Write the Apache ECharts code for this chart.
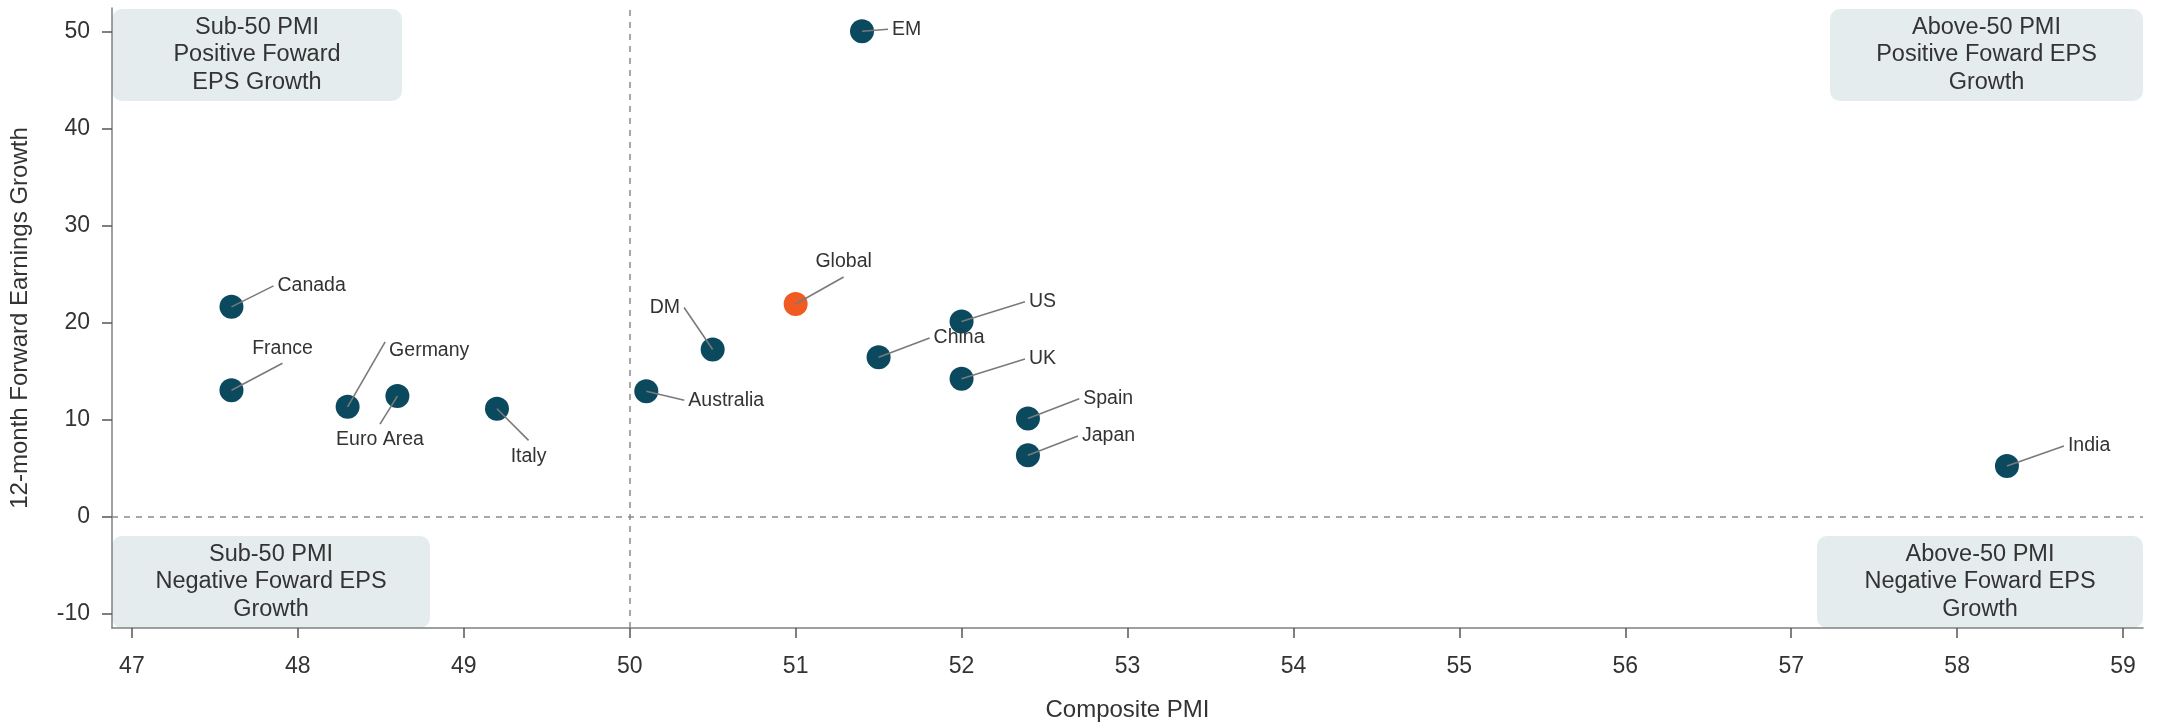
<!DOCTYPE html>
<html>
<head>
<meta charset="utf-8">
<title>PMI vs Forward EPS Growth</title>
<script src="https://cdn.jsdelivr.net/npm/echarts@6/dist/echarts.min.js"></script>
<style>
  html, body { margin: 0; padding: 0; background: #fff; }
  #chart { width: 2164px; height: 724px; }
</style>
</head>
<body>
<div id="chart"></div>
<script>
// data
const names = ['Canada', 'France', 'Germany', 'Euro Area', 'Italy', 'Australia', 'DM', 'Global', 'EM', 'China', 'US', 'UK', 'Spain', 'Japan', 'India']
const pmi = [47.6, 47.6, 48.3, 48.6, 49.2, 50.1, 50.5, 51.0, 51.4, 51.5, 52.0, 52.0, 52.4, 52.4, 58.3]
const epsGrowth = [21.6, 13.0, 11.3, 12.4, 11.1, 12.9, 17.2, 21.9, 50.0, 16.4, 20.1, 14.2, 10.1, 6.3, 5.2]
const xTicks = [47, 48, 49, 50, 51, 52, 53, 54, 55, 56, 57, 58, 59]
const yTicks = [-10, 0, 10, 20, 30, 40, 50]

// leader line end (px from point) and where the text sits relative to it
const labelPlace = {
  'Canada': { dx: 42, dy: -21, pos: 'right' },
  'France': { dx: 51, dy: -27, pos: 'top' },
  'Germany': { dx: 37.5, dy: -65, pos: 'right', ty: 9 },
  'Euro Area': { dx: -17.4, dy: 28, pos: 'bottom' },
  'Italy': { dx: 31.6, dy: 31.6, pos: 'bottom' },
  'Australia': { dx: 38, dy: 9, pos: 'right' },
  'DM': { dx: -28.6, dy: -42, pos: 'left' },
  'Global': { dx: 48, dy: -27, pos: 'top' },
  'EM': { dx: 26, dy: -2, pos: 'right' },
  'China': { dx: 51, dy: -19.4, pos: 'right' },
  'US': { dx: 63.4, dy: -19.7, pos: 'right' },
  'UK': { dx: 63.4, dy: -19.7, pos: 'right' },
  'Spain': { dx: 51.3, dy: -19.7, pos: 'right' },
  'Japan': { dx: 50, dy: -19.3, pos: 'right' },
  'India': { dx: 57, dy: -20, pos: 'right' },
}

const FONT = "'Liberation Sans', Arial, sans-serif"
const TEAL = '#0b4a5e'
const ORANGE = '#f15a22'
const TEXT = '#333333'
const BOX = '#e5ecee'

const points = names.map((n, i) => ({
  name: n,
  value: [pmi[i], epsGrowth[i]],
  itemStyle: { color: n === 'Global' ? ORANGE : TEAL, opacity: 1 },
}))

const chart = echarts.init(document.getElementById('chart'))

const quadBox = (pos, w, text) => ({
  type: 'group',
  ...pos,
  z: 1,
  children: [
    { type: 'rect', shape: { x: 0, y: 0, width: w, height: 92, r: 10 }, style: { fill: BOX } },
    {
      type: 'text',
      x: w / 2,
      y: 46,
      style: {
        text: text,
        fill: TEXT,
        font: `23.5px ${FONT}`,
        lineHeight: 27.3,
        align: 'center',
        verticalAlign: 'middle',
      },
    },
  ],
})

const option = {
  animation: false,
  backgroundColor: '#fff',
  grid: { left: 112, right: 21, top: 8, bottom: 96, containLabel: false, outerBoundsMode: 'none' },
  xAxis: {
    type: 'value',
    min: 46.88,
    max: 59.12,
    name: 'Composite PMI',
    nameLocation: 'middle',
    nameGap: 70,
    nameTextStyle: { color: TEXT, fontSize: 24, fontFamily: FONT },
    axisLine: { show: true, onZero: false, lineStyle: { color: '#808080', width: 1.5 } },
    axisTick: { show: true, length: 10, customValues: xTicks, lineStyle: { color: '#555', width: 1.5 } },
    axisLabel: { customValues: xTicks, color: TEXT, fontSize: 23, fontFamily: FONT, margin: 27 },
    splitLine: { show: false },
  },
  yAxis: {
    type: 'value',
    min: -11.5,
    max: 52.4,
    name: '12-month Forward Earnings Growth',
    nameLocation: 'middle',
    nameGap: 80,
    nameTextStyle: { color: TEXT, fontSize: 24, fontFamily: FONT },
    axisLine: { show: true, onZero: false, lineStyle: { color: '#808080', width: 1.5 } },
    axisTick: { show: true, length: 10, customValues: yTicks, lineStyle: { color: '#555', width: 1.5 } },
    axisLabel: { customValues: yTicks, color: TEXT, fontSize: 23, fontFamily: FONT, margin: 22 },
    splitLine: { show: false },
  },
  graphic: [
    quadBox({ left: 112, top: 9 }, 290, 'Sub-50 PMI\nPositive Foward\nEPS Growth'),
    quadBox({ left: 112, top: 536 }, 318, 'Sub-50 PMI\nNegative Foward EPS\nGrowth'),
    quadBox({ right: 21, top: 9 }, 313, 'Above-50 PMI\nPositive Foward EPS\nGrowth'),
    quadBox({ right: 21, top: 536 }, 326, 'Above-50 PMI\nNegative Foward EPS\nGrowth'),
  ],
  series: [
    {
      type: 'scatter',
      data: points,
      symbolSize: 24,
      z: 3,
      markLine: {
        silent: true,
        symbol: 'none',
        label: { show: false },
        lineStyle: { color: '#8a8a8a', width: 1.5, type: [6, 6] },
        data: [{ xAxis: 50 }, { yAxis: 0 }],
      },
    },
    {
      // leader lines + labels
      type: 'custom',
      z: 4,
      data: names.map((n, i) => [pmi[i], epsGrowth[i], i]),
      renderItem: (params, api) => {
        const p = api.coord([api.value(0), api.value(1)])
        const n = names[api.value(2)]
        const lp = labelPlace[n]
        const ex = p[0] + lp.dx
        const ey = p[1] + lp.dy
        let tx = ex, ty = ey, align = 'center'
        if (lp.pos === 'right') { tx = ex + 4; align = 'left' }
        if (lp.pos === 'left') { tx = ex - 4; align = 'right' }
        if (lp.pos === 'top') { ty = ey - 15 }
        if (lp.pos === 'bottom') { ty = ey + 16 }
        if (lp.ty) ty += lp.ty
        return {
          type: 'group',
          children: [
            {
              type: 'line',
              shape: { x1: p[0], y1: p[1], x2: ex, y2: ey },
              style: { stroke: '#7a7a7a', lineWidth: 1.6 },
            },
            {
              type: 'text',
              x: tx,
              y: ty,
              style: {
                text: n,
                fill: TEXT,
                font: `19.5px ${FONT}`,
                align: align,
                verticalAlign: 'middle',
              },
            },
          ],
        }
      },
    },
  ],
}

chart.setOption(option)
</script>
</body>
</html>
